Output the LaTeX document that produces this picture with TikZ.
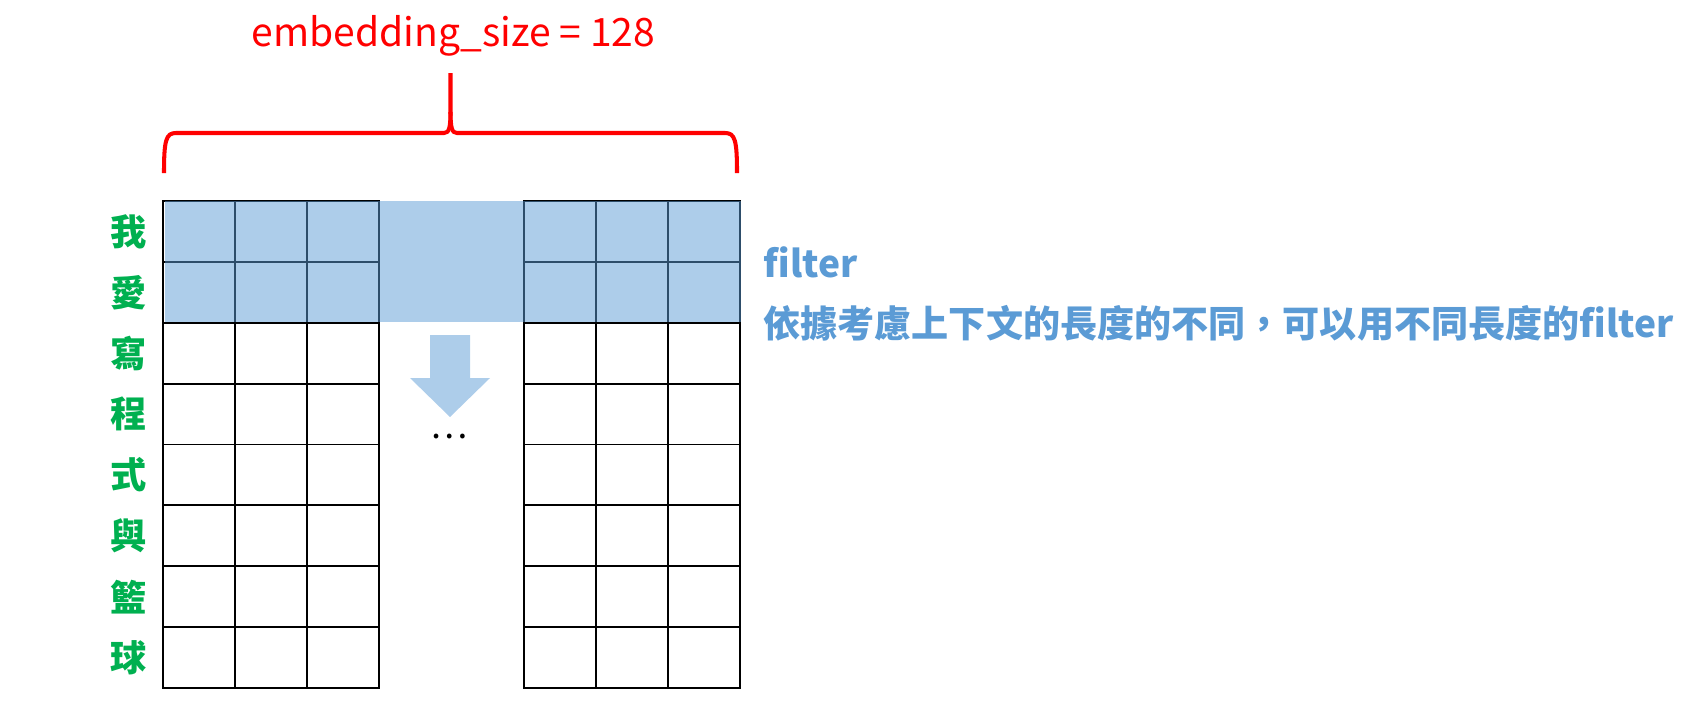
\documentclass[tikz,border=0pt]{standalone}
\usepackage{fontspec}
\setmainfont{Noto Sans CJK TC}
\definecolor{filterblue}{HTML}{5B9BD5}
\definecolor{wordgreen}{HTML}{00B050}
\definecolor{arrowblue}{HTML}{ADCDEA}

\begin{document}
\begin{tikzpicture}[x=0.01cm, y=-0.01cm,
    cell/.style = {draw, line width=0.55pt},
    word/.style = {text=wordgreen, font=\fontsize{10.3pt}{12pt}\selectfont\bfseries},
    note/.style = {text=filterblue, anchor=west, font=\fontsize{10.55pt}{12pt}\selectfont\bfseries}]
    \useasboundingbox (0,0) rectangle (1698,703);

    % the two halves of the matrix
    \foreach \x in {163,235,307,524,596,668}
        \foreach \r in {0,...,7}
            \draw[cell] (\x,{201+\r*60.875}) rectangle ++(72,60.875);

    % filter over the first two words
    \fill[filterblue, fill opacity=0.5] (164.5,200.5) rectangle (741,322);

    % words
    \foreach \w [count=\i] in {我,愛,寫,程,式,與,籃,球}
        \node[word] (w\i) at (129,{231.5+(\i-1)*60.875}) {\w};

    % slide down
    \fill[arrowblue] (430,335) -- (470,335) -- (470,378) -- (490,378)
        -- (450,417) -- (410,378) -- (430,378) -- cycle;
    \node (dots) at (449,437) {…};

    % brace
    \draw[red, line width=1.15pt] (164,173) .. controls (164,140) and (166,133) .. (176,133)
        -- (444,133) .. controls (449,133) and (450.5,128) .. (450.5,112) -- (450.5,73);
    \draw[red, line width=1.15pt] (450.5,112) .. controls (450.5,128) and (452,133) .. (457,133)
        -- (725,133) .. controls (735,133) and (737,140) .. (737,173);
    \node[anchor=base, text=red, font=\fontsize{11.1pt}{13pt}\selectfont] (size) at (453.5,47) {embedding\_size = 128};

    % notes
    \node[note] (filter) at (751,262) {filter};
    \node[note] (why) at (751,323) {依據考慮上下文的長度的不同，可以用不同長度的filter};
\end{tikzpicture}
\end{document}
